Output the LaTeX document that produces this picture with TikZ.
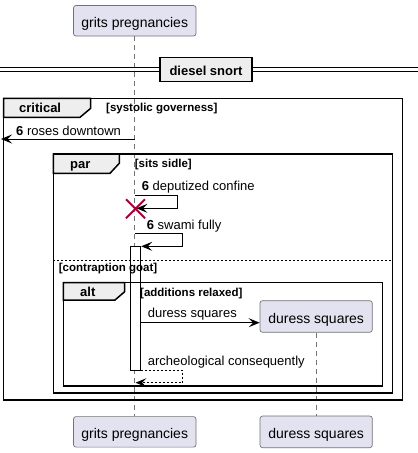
\documentclass[tikz,border=0pt]{standalone}
\usepackage{fontspec}
\setmainfont{Liberation Sans}
\usetikzlibrary{arrows.meta}
\definecolor{teilfill}{HTML}{E2E2F0}
\definecolor{reiterfill}{HTML}{EEEEEE}
\definecolor{kreuzrot}{HTML}{A80036}
\begin{document}
\begin{tikzpicture}[x=1pt, y=-1pt,
    every node/.style={font=\fontsize{13}{15}\selectfont, inner sep=0pt},
    teilnehmer/.style={draw=black!55, line width=0.7pt, fill=teilfill, rounded corners=2.5pt,
      font=\fontsize{14}{16}\selectfont, text height=13pt, text depth=0pt, minimum height=30.5pt},
    lebenslinie/.style={draw=black!55, line width=0.8pt, dash pattern=on 5pt off 4pt},
    rahmen/.style={draw=black, line width=1.5pt},
    reiter/.style={draw=black, line width=1.5pt, fill=reiterfill},
    titel/.style={anchor=base west, font=\bfseries\fontsize{13}{15}\selectfont},
    bedingung/.style={anchor=base west, font=\bfseries\fontsize{11.5}{13}\selectfont},
    beschriftung/.style={anchor=base west},
    nachricht/.style={draw=black, line width=1pt, -{Stealth[length=11pt, width=9pt, inset=4.5pt]}},
    antwort/.style={nachricht, dash pattern=on 2pt off 2pt}]
  \useasboundingbox (0,0) rectangle (418,453);
  % Teilnehmer
  \node[teilnehmer, minimum width=122.5pt] (gritsOben) at (134.75,20.75) {grits pregnancies};
  \node[teilnehmer, minimum width=122.5pt] (gritsUnten) at (134.75,431.85) {grits pregnancies};
  \node[teilnehmer, minimum width=112.3pt, minimum height=31.6pt] (duressNeu) at (316.15,316.5) {duress squares};
  \node[teilnehmer, minimum width=112.3pt, minimum height=31.6pt] (duressUnten) at (316.15,431.85) {duress squares};
  % Lebenslinien
  \draw[lebenslinie] (gritsOben.south) -- (gritsUnten.north);
  \draw[lebenslinie] (duressNeu.south) -- (duressUnten.north);
  % Trenner
  \foreach \y in {67.7,71.7}{
    \draw[line width=1pt] (0,\y) -- (418,\y);
  }
  \node[draw=black, line width=1.7pt, fill=reiterfill, minimum width=92pt, minimum height=24pt,
    font=\bfseries\fontsize{13}{15}\selectfont, text height=11pt, text depth=0pt] (trenner) at (206,69.5) {diesel snort};
  % Rahmen critical
  \draw[rahmen] (3.5,98.3) rectangle (402.7,400);
  \draw[reiter] (3.5,98.3) -- (90.7,98.3) -- (90.7,108.3) -- (80,117.3) -- (3.5,117.3) -- cycle;
  \node[titel] (critLabel) at (19,112.3) {critical};
  \node[bedingung] (critBed) at (106,111.7) {[systolic governess]};
  \coordinate (rdStart) at (134.75,139);
  \coordinate (rdEnde) at (1,139);
  \draw[nachricht] (rdStart) -- (rdEnde);
  \node[beschriftung] (rdLabel) at (16,135) {\textbf{6} roses downtown};
  % Rahmen par
  \draw[rahmen] (53.3,154) rectangle (392.7,393);
  \draw[reiter] (53.3,154) -- (119.3,154) -- (119.3,163.3) -- (110,173.3) -- (53.3,173.3) -- cycle;
  \node[titel] (parLabel) at (70,168) {par};
  \node[bedingung] (parBed) at (134.7,167.7) {[sits sidle]};
  \coordinate (dcStart) at (134.75,195.7);
  \coordinate (dcEnde) at (136.5,208.3);
  \draw[nachricht] (dcStart) -- (177.7,195.7) |- (dcEnde);
  \node[beschriftung] (dcLabel) at (141.7,190.7) {\textbf{6} deputized confine};
  \draw[kreuzrot, line width=2pt] (126,199.3) -- (145,218.3) (126,218.3) -- (145,199.3);
  % Aktivierung
  \draw[black, line width=1pt, fill=white] (130.3,246.3) rectangle (140.7,370.7);
  \coordinate (sfStart) at (134.75,233.7);
  \coordinate (sfEnde) at (141.2,246.3);
  \draw[nachricht] (sfStart) -- (182.7,233.7) |- (sfEnde);
  \node[beschriftung] (sfLabel) at (146.7,229.3) {\textbf{6} swami fully};
  \draw[line width=1pt, dash pattern=on 2pt off 2pt] (53.3,260) -- (392.7,260);
  \node[bedingung] (parBed2) at (58.7,271) {[contraption goat]};
  % Rahmen alt
  \draw[rahmen] (63.3,282.7) rectangle (382.7,386);
  \draw[reiter] (63.3,282.7) -- (124.7,282.7) -- (124.7,291.7) -- (115,300) -- (63.3,300) -- cycle;
  \node[titel] (altLabel) at (80,296.7) {alt};
  \node[bedingung] (altBed) at (140,296) {[additions relaxed]};
  \coordinate (dsStart) at (140.7,322.7);
  \draw[nachricht] (dsStart) -- (duressNeu.west |- dsStart);
  \node[beschriftung] (dsLabel) at (147.7,317.3) {duress squares};
  \coordinate (acStart) at (140.7,370.7);
  \coordinate (acEnde) at (135.5,382.7);
  \draw[antwort] (acStart) -- (182.7,370.7) |- (acEnde);
  \node[beschriftung] (acLabel) at (147.7,365) {archeological consequently};
\end{tikzpicture}
\end{document}
